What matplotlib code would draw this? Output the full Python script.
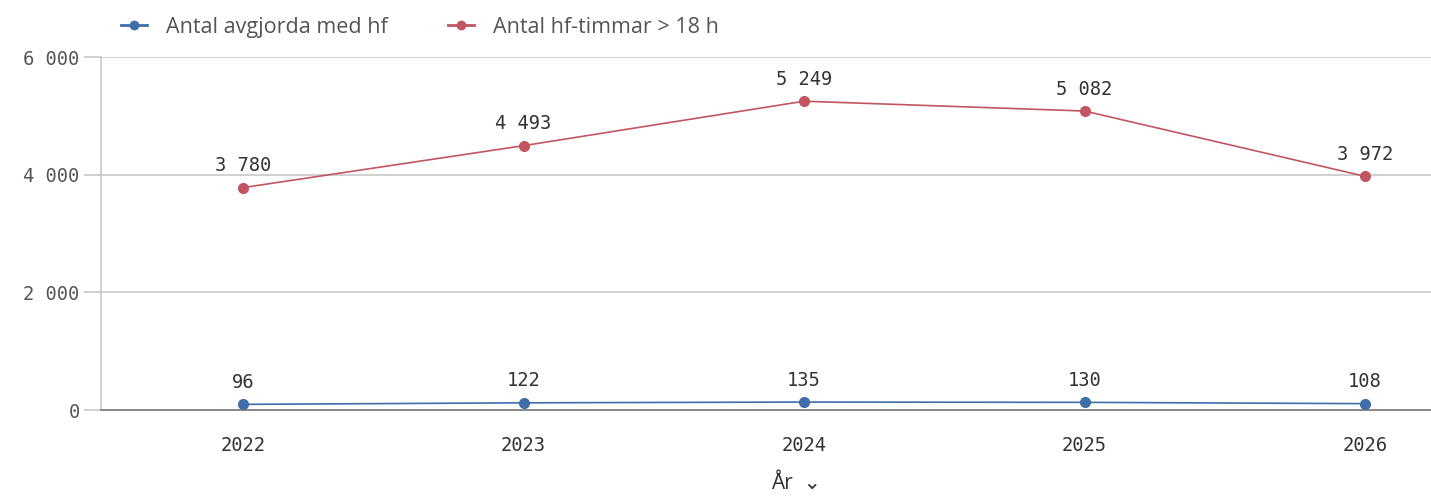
import matplotlib.pyplot as plt
from matplotlib.ticker import FuncFormatter
from matplotlib.lines import Line2D

years = [2022, 2023, 2024, 2025, 2026]
avgjorda = [96, 122, 135, 130, 108]
hf_timmar = [3780, 4493, 5249, 5082, 3972]
series_names = ['Antal avgjorda med hf', 'Antal hf-timmar > 18 h']
yticks = [0, 2000, 4000, 6000]

BLUE = '#3f6ea8'
RED = '#c25562'
GRID = '#c8c8c8'
MONO = 'DejaVu Sans Mono'


def fmt(v):
    return f'{int(v):,}'.replace(',', ' ')


fig = plt.figure(figsize=(14.31, 4.98), dpi=100)
ax = fig.add_axes([0.0706, 0.1767, 0.9294, 0.7088])

x = list(range(len(years)))
for vals, col in [(avgjorda, BLUE), (hf_timmar, RED)]:
    ax.plot(x, vals, color=col, linewidth=1.2, marker='o', markersize=7, zorder=3)
    for xi, v in zip(x, vals):
        ax.annotate(fmt(v), (xi, v), xytext=(0, 9), textcoords='offset points',
                    ha='center', va='bottom', fontsize=13.5, family=MONO, color='#333333')

ax.set_xlim(-0.506, 4.235)
ax.set_ylim(0, 6000)
ax.set_xticks(x)
ax.set_xticklabels([str(y) for y in years], family=MONO, fontsize=13.5, color='#333333')
ax.set_yticks(yticks)
ax.yaxis.set_major_formatter(FuncFormatter(lambda v, p: fmt(v)))
for lbl in ax.get_yticklabels():
    lbl.set_family(MONO)
ax.tick_params(axis='y', labelsize=13.5, labelcolor='#555555', length=12, color=GRID, width=1.2)
ax.tick_params(axis='x', length=0, pad=19)
ax.grid(axis='y', color=GRID, linewidth=1.2, zorder=0)

for s in ['top', 'right']:
    ax.spines[s].set_visible(False)
ax.spines['left'].set_color(GRID)
ax.spines['left'].set_linewidth(1.2)
ax.spines['bottom'].set_color('#888888')
ax.spines['bottom'].set_linewidth(1.4)

fig.text(0.556, 0.008, 'År  \u2304', fontsize=15, family=['Open Sans', 'DejaVu Sans'],
         color='#333333', ha='center', va='bottom')

handles = [Line2D([0], [0], color=BLUE, marker='o', markersize=6, linewidth=2),
           Line2D([0], [0], color=RED, marker='o', markersize=6, linewidth=2)]
fig.legend(handles, series_names, loc='upper left', bbox_to_anchor=(0.071, 1.005), ncol=2,
           frameon=False, handlelength=1.2, handletextpad=0.9, columnspacing=2.8,
           prop={'family': 'Open Sans', 'size': 15.5}, labelcolor='#555555')

fig.savefig('out.png', dpi=100)
